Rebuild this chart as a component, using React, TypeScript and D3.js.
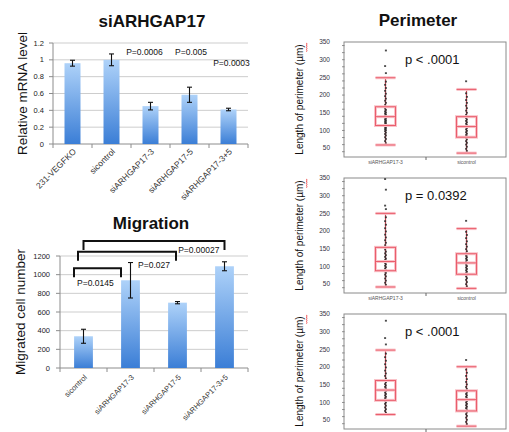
import React, { useRef, useEffect } from 'react';
import * as d3 from 'd3';

// --- siARHGAP17 mRNA ---
const mrnaCats = ['231-VEGFKO', 'sicontrol', 'siARHGAP17-3', 'siARHGAP17-5', 'siARHGAP17-3+5'];
const mrnaValues = [0.96, 1.0, 0.45, 0.585, 0.41];
const mrnaErrors = [0.035, 0.07, 0.045, 0.09, 0.015];
const mrnaTicks = [0, 0.2, 0.4, 0.6, 0.8, 1, 1.2];
const mrnaPvals = ['', '', 'P=0.0006', 'P=0.005', 'P=0.0003'];

// --- Migration ---
const migCats = ['sicontrol', 'siARHGAP17-3', 'siARHGAP17-5', 'siARHGAP17-3+5'];
const migValues = [340, 940, 700, 1090];
const migErrors = [75, 190, 12, 48];
const migTicks = [0, 200, 400, 600, 800, 1000, 1200];
const migCompareFrom = ['sicontrol', 'sicontrol', 'sicontrol'];
const migCompareTo = ['siARHGAP17-3', 'siARHGAP17-5', 'siARHGAP17-3+5'];
const migCompareLevel = [1070, 1245, 1360];
const migComparePvals = ['P=0.0145', 'P=0.027', 'P=0.00027'];

// --- Perimeter box plots ---
const boxCats = ['siARHGAP17-3', 'sicontrol'];
const boxTicks = [50, 100, 150, 200, 250, 300, 350];
const boxPvals = ['p < .0001', 'p = 0.0392', 'p < .0001'];
// [low whisker, q1, median, q3, high whisker]
const p1Stats = [[59, 114, 139, 167, 249], [36, 81, 111, 139, 216]];
const p2Stats = [[42, 88, 114, 154, 250], [38, 78, 110, 136, 207]];
const p3Stats = [[66, 106, 135, 162, 248], [33, 76, 108, 133, 201]];
const p1Points = [
  [59, 64, 70, 76, 81, 86, 90, 94, 98, 101, 104, 107, 110, 112, 114, 116, 118, 121, 124, 127, 130, 133, 136, 139, 142, 145, 148, 151, 154, 158, 162, 167, 172, 178, 184, 190, 197, 204, 212, 220, 229, 238, 249, 262, 282, 326],
  [36, 42, 48, 54, 60, 65, 70, 75, 79, 83, 87, 91, 95, 99, 103, 107, 111, 115, 119, 123, 127, 131, 135, 139, 144, 150, 156, 163, 170, 178, 186, 195, 205, 216, 239],
];
const p2Points = [
  [42, 48, 54, 60, 66, 72, 77, 82, 86, 90, 94, 98, 102, 106, 110, 114, 118, 122, 127, 132, 137, 142, 148, 154, 160, 167, 174, 182, 190, 199, 208, 218, 228, 239, 250, 262, 272, 317, 347],
  [38, 44, 50, 56, 62, 67, 72, 77, 81, 85, 89, 93, 97, 101, 105, 110, 114, 118, 122, 126, 130, 134, 138, 143, 149, 156, 163, 171, 180, 189, 198, 207, 229],
];
const p3Points = [
  [66, 71, 76, 81, 86, 91, 96, 100, 104, 108, 112, 116, 120, 124, 128, 132, 136, 140, 144, 148, 152, 157, 162, 168, 175, 182, 190, 199, 208, 218, 228, 238, 248, 264, 282, 331],
  [33, 39, 45, 51, 57, 62, 67, 72, 76, 80, 84, 88, 92, 96, 100, 104, 108, 112, 116, 120, 124, 128, 133, 138, 144, 151, 158, 166, 175, 184, 193, 201, 220],
];

const FONT = '"Liberation Sans", Arial, sans-serif';

function drawBarChart(svg: any, o: any) {
  const { cats, values, errors, ticks, left, right, top, bottom, barFrac, labelSize, labelDy } = o;
  const x = d3.scaleBand<string>().domain(cats).range([left, right]);
  const y = d3.scaleLinear().domain([0, ticks[ticks.length - 1]]).range([bottom, top]);
  const g = svg.append('g');

  g.append('g').selectAll('line').data(ticks.slice(1)).join('line')
    .attr('x1', left).attr('x2', right)
    .attr('y1', (d: number) => y(d)).attr('y2', (d: number) => y(d))
    .attr('stroke', '#cdcdcd').attr('stroke-width', 1);

  // y axis
  g.append('line').attr('x1', left).attr('x2', left).attr('y1', y(ticks[ticks.length - 1])).attr('y2', y(0))
    .attr('stroke', '#8c8c8c');
  g.append('g').selectAll('line').data(ticks).join('line')
    .attr('x1', left - 4).attr('x2', left)
    .attr('y1', (d: number) => y(d)).attr('y2', (d: number) => y(d))
    .attr('stroke', '#8c8c8c');
  g.append('g').selectAll('text').data(ticks).join('text')
    .attr('x', left - o.tickGap).attr('y', (d: number) => y(d)).attr('dy', '0.35em')
    .attr('text-anchor', 'end').attr('font-size', 7.5).attr('fill', '#222')
    .text((d: number) => String(d));

  // x axis
  g.append('line').attr('x1', left).attr('x2', right).attr('y1', y(0)).attr('y2', y(0))
    .attr('stroke', '#8c8c8c');
  const bounds = cats.map((c: string) => x(c) as number).concat([right]);
  g.append('g').selectAll('line').data(bounds).join('line')
    .attr('x1', (d: number) => d).attr('x2', (d: number) => d)
    .attr('y1', y(0)).attr('y2', y(0) + 4)
    .attr('stroke', '#8c8c8c');

  const bw = x.bandwidth() * barFrac;
  const cx = (c: string) => (x(c) as number) + x.bandwidth() / 2;

  g.append('g').selectAll('rect').data(values).join('rect')
    .attr('x', (d: number, i: number) => cx(cats[i]) - bw / 2)
    .attr('width', bw)
    .attr('y', (d: number) => y(d))
    .attr('height', (d: number) => y(0) - y(d))
    .attr('fill', 'url(#barGrad)');

  const eb = g.append('g').attr('stroke', '#111').attr('stroke-width', 1.1);
  values.forEach((v: number, i: number) => {
    const c = cx(cats[i]);
    eb.append('line').attr('x1', c).attr('x2', c).attr('y1', y(v + errors[i])).attr('y2', y(v - errors[i]));
    eb.append('line').attr('x1', c - 2.5).attr('x2', c + 2.5).attr('y1', y(v + errors[i])).attr('y2', y(v + errors[i]));
    eb.append('line').attr('x1', c - 2.5).attr('x2', c + 2.5).attr('y1', y(v - errors[i])).attr('y2', y(v - errors[i]));
  });

  g.append('g').selectAll('text').data(cats).join('text')
    .attr('transform', (d: string) => `translate(${cx(d) + 2},${y(0) + labelDy}) rotate(-45)`)
    .attr('text-anchor', 'end').attr('dy', '0.35em')
    .attr('font-size', labelSize).attr('fill', '#333')
    .text((d: string) => d);

  g.append('text')
    .attr('transform', `translate(${o.ylabelX},${(top + bottom) / 2}) rotate(-90)`)
    .attr('text-anchor', 'middle').attr('font-size', 13.5).attr('fill', '#111')
    .text(o.ylabel);

  g.append('text').attr('x', o.titleX).attr('y', o.titleY).attr('text-anchor', 'middle')
    .attr('font-size', 17).attr('font-weight', 'bold').attr('fill', '#111').text(o.title);

  return { x, y, cx };
}

const App = () => {
  const ref = useRef<SVGSVGElement>(null);

  useEffect(() => {
    const svg = d3.select(ref.current);
    svg.selectAll('*').remove();
    svg.attr('font-family', FONT);

    const grad = svg.append('defs').append('linearGradient').attr('id', 'barGrad')
      .attr('x1', 0).attr('y1', 0).attr('x2', 0).attr('y2', 1);
    grad.append('stop').attr('offset', '0%').attr('stop-color', '#aed2f9');
    grad.append('stop').attr('offset', '100%').attr('stop-color', '#3b7ed6');

    // mRNA chart
    const m = drawBarChart(svg, {
      cats: mrnaCats, values: mrnaValues, errors: mrnaErrors, ticks: mrnaTicks,
      left: 53, right: 248, top: 43, bottom: 144, barFrac: 0.41, labelSize: 8.5, labelDy: 6,
      tickGap: 9, ylabel: 'Relative mRNA level', ylabelX: 27, title: 'siARHGAP17', titleX: 152, titleY: 27,
    });
    const pdx = [0, 0, -6, 1.5, 3];
    const pdy = [0, 0, 55, 55, 66];
    svg.append('g').selectAll('text').data(mrnaPvals).join('text')
      .attr('x', (d: string, i: number) => m.cx(mrnaCats[i]) + pdx[i])
      .attr('y', (d: string, i: number) => pdy[i])
      .attr('text-anchor', 'middle').attr('font-size', 8.5).attr('fill', '#111')
      .text((d: string) => d);

    // Migration chart
    const g2 = drawBarChart(svg, {
      cats: migCats, values: migValues, errors: migErrors, ticks: migTicks,
      left: 60, right: 248, top: 256, bottom: 368, barFrac: 0.4, labelSize: 7.5, labelDy: 8,
      tickGap: 10, ylabel: 'Migrated cell number', ylabelX: 25, title: 'Migration', titleX: 151, titleY: 229,
    });
    const insetL = [-9.5, -5.5, 0];
    const insetR = [-9.5, -1.5, 0];
    const br = svg.append('g');
    migCompareLevel.forEach((lv, i) => {
      const yy = g2.y(lv);
      const xl = g2.cx(migCompareFrom[i]) + insetL[i];
      const xr = g2.cx(migCompareTo[i]) + insetR[i];
      br.append('path')
        .attr('d', `M${xl},${yy + 9}V${yy}H${xr}V${yy + 9}`)
        .attr('fill', 'none').attr('stroke', '#111').attr('stroke-width', 2);
      const t = br.append('text').attr('font-size', 8.5).attr('fill', '#111').text(migComparePvals[i]);
      if (i === 0) t.attr('x', xl + 3).attr('y', yy + 18);
      else if (i === 1) t.attr('x', xr - 6).attr('y', yy + 16).attr('text-anchor', 'end');
      else t.attr('x', xr - 5).attr('y', yy + 12).attr('text-anchor', 'end');
    });

    // Perimeter box plots
    svg.append('text').attr('x', 418).attr('y', 26).attr('text-anchor', 'middle')
      .attr('font-size', 17).attr('font-weight', 'bold').attr('fill', '#111').text('Perimeter');

    const stats = [p1Stats, p2Stats, p3Stats];
    const points = [p1Points, p2Points, p3Points];
    stats.forEach((st, pi) => {
      const top = 42 + pi * 136;
      const bottom = top + 115;
      const y = d3.scaleLinear().domain([25, 350]).range([bottom, top]);
      const x = d3.scaleBand<string>().domain(boxCats).range([345, 507]);
      const g = svg.append('g');

      g.append('rect').attr('x', 344).attr('y', top).attr('width', 162).attr('height', bottom - top)
        .attr('fill', 'none').attr('stroke', '#8a8a8a');
      g.append('g').selectAll('line').data(y.ticks(13)).join('line')
        .attr('x1', 342).attr('x2', 344.5)
        .attr('y1', (d: number) => y(d)).attr('y2', (d: number) => y(d))
        .attr('stroke', '#777').attr('stroke-width', 0.8);
      g.append('g').selectAll('text').data(boxTicks).join('text')
        .attr('x', 330).attr('y', (d: number) => y(d)).attr('dy', '0.35em')
        .attr('text-anchor', 'end').attr('font-size', 6.5).attr('fill', '#334')
        .text((d: number) => String(d));
      const mid = x(boxCats[1]) as number;
      g.append('line').attr('x1', mid).attr('x2', mid).attr('y1', bottom).attr('y2', bottom + 3)
        .attr('stroke', '#666');

      g.append('text')
        .attr('transform', `translate(303,${(top + bottom) / 2}) rotate(-90)`)
        .attr('text-anchor', 'middle').attr('font-size', 10).attr('fill', '#111')
        .text('Length of perimeter (µm)');
      let zz = `M306,${top + 1}`;
      for (let k = 0; k < 8; k++) zz += `L${k % 2 ? 306 : 307.3},${top + 2 + k * 1.1}`;
      g.append('path').attr('d', zz).attr('fill', 'none').attr('stroke', '#e33').attr('stroke-width', 0.7);

      g.append('text').attr('x', 405).attr('y', top + 22)
        .attr('font-size', 13).attr('fill', '#111').text(boxPvals[pi]);

      boxCats.forEach((c, ci) => {
        const cx = (x(c) as number) + x.bandwidth() / 2;
        const [lo, q1, med, q3, hi] = st[ci];
        const w = 20;
        g.append('line').attr('x1', cx).attr('x2', cx).attr('y1', y(lo)).attr('y2', y(hi))
          .attr('stroke', '#c8404e').attr('stroke-width', 1.2);
        g.append('g').selectAll('rect').data(points[pi][ci]).join('rect')
          .attr('x', (d: number, i: number) => cx - 1 + ((i % 2) - 0.5) * 0.8)
          .attr('y', (d: number) => y(d) - 0.9)
          .attr('width', 2).attr('height', 1.8)
          .attr('fill', '#2b2b2b').attr('opacity', 0.85);
        const shapes = (sel: any, stroke: string, sw: number) => {
          sel.append('rect').attr('x', cx - w / 2).attr('y', y(q3)).attr('width', w).attr('height', y(q1) - y(q3))
            .attr('fill', 'none').attr('stroke', stroke).attr('stroke-width', sw);
          [med, lo, hi].forEach((v) => {
            sel.append('line').attr('x1', cx - w / 2).attr('x2', cx + w / 2).attr('y1', y(v)).attr('y2', y(v))
              .attr('stroke', stroke).attr('stroke-width', sw);
          });
        };
        shapes(g, '#f9c3c9', 3);
        shapes(g, '#ea5d6c', 1);
        if (bottom + 7 < 432) {
          g.append('text').attr('x', cx).attr('y', bottom + 6.5).attr('text-anchor', 'middle')
            .attr('font-size', 5).attr('fill', '#555').text(c);
        }
      });
    });
  }, []);

  return (
    <svg ref={ref} width={509} height={432}
      style={{ position: 'absolute', left: 0, top: 0, background: '#fff' }} />
  );
};

export default App;
